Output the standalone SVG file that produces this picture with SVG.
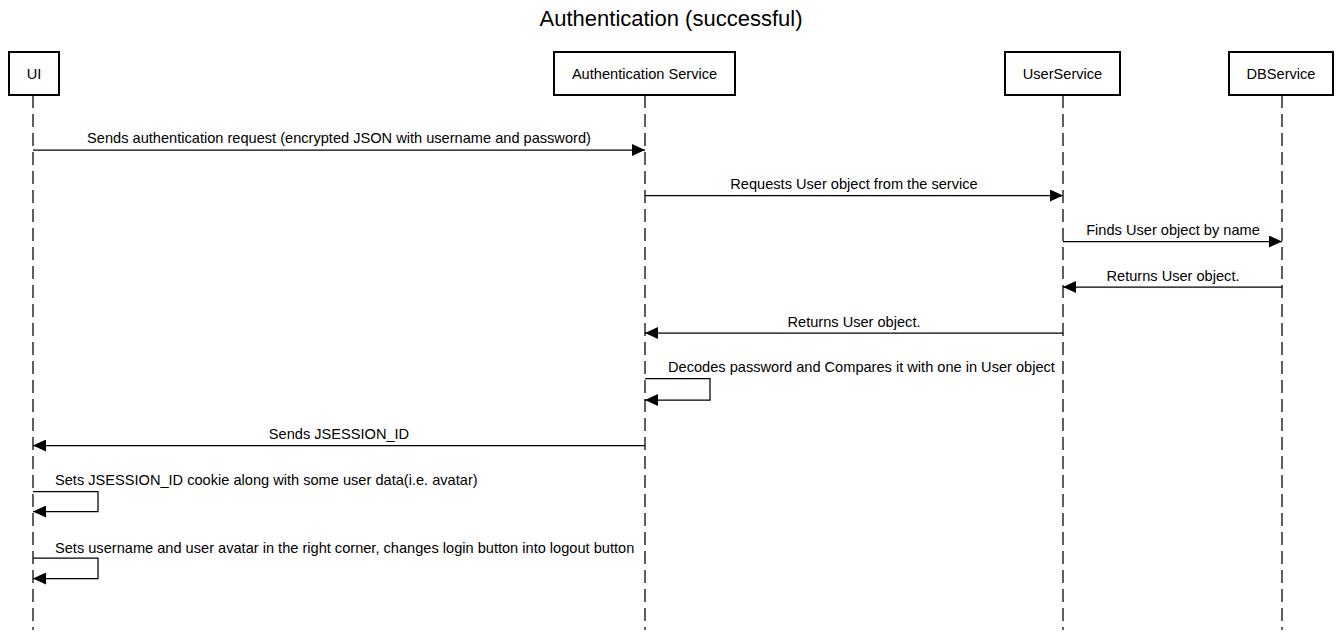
<svg xmlns="http://www.w3.org/2000/svg" width="1342" height="636" viewBox="0 0 1342 636">
<style>
.box{fill:#fff;stroke:#000;stroke-width:2}
.bt{font-family:"Liberation Sans",Arial,sans-serif;font-size:14.6px;fill:#000;text-anchor:middle}
.life{stroke:#000;stroke-width:1.25;stroke-dasharray:13 6;fill:none}
.msg{stroke:#000;stroke-width:1.25;fill:none;marker-end:url(#ah)}
.lt{font-family:"Liberation Sans",Arial,sans-serif;font-size:14.6px;fill:#000;text-anchor:middle}
.ls{font-family:"Liberation Sans",Arial,sans-serif;font-size:14.6px;fill:#000}
.title{font-family:"Liberation Sans",Arial,sans-serif;font-size:22px;fill:#000;text-anchor:middle}
</style>
<defs>
<marker id="ah" viewBox="0 0 13 12" refX="13" refY="6" markerWidth="13" markerHeight="12" markerUnits="userSpaceOnUse" orient="auto">
<path d="M0,0 L13,6 L0,12 z" fill="#000"/>
</marker>
</defs>
<rect width="1342" height="636" fill="#fff"/>
<text class="title" x="671" y="25.5">Authentication (successful)</text>
<g id="lifelines">
<line class="life" x1="33" y1="95" x2="33" y2="630"/>
<line class="life" x1="645" y1="95" x2="645" y2="630"/>
<line class="life" x1="1063" y1="95" x2="1063" y2="630"/>
<line class="life" x1="1282" y1="95" x2="1282" y2="630"/>
</g>
<g id="node-ui">
<rect class="box" x="9" y="52" width="50" height="43"/>
<text class="bt" x="34" y="79">UI</text>
</g>
<g id="node-auth">
<rect class="box" x="554" y="52" width="181" height="43"/>
<text class="bt" x="644.5" y="79">Authentication Service</text>
</g>
<g id="node-user">
<rect class="box" x="1005" y="52" width="115" height="43"/>
<text class="bt" x="1062.5" y="79">UserService</text>
</g>
<g id="node-db">
<rect class="box" x="1229" y="52" width="104" height="43"/>
<text class="bt" x="1281" y="79">DBService</text>
</g>
<g id="connectors">
<line class="msg" x1="33" y1="150" x2="645" y2="150"/>
<text class="lt" x="339" y="143">Sends authentication request (encrypted JSON with username and password)</text>
<line class="msg" x1="645" y1="195.5" x2="1063" y2="195.5"/>
<text class="lt" x="854" y="189">Requests User object from the service</text>
<line class="msg" x1="1063" y1="241.5" x2="1282" y2="241.5"/>
<text class="lt" x="1173" y="235">Finds User object by name</text>
<line class="msg" x1="1282" y1="287" x2="1063" y2="287"/>
<text class="lt" x="1173" y="280.5">Returns User object.</text>
<line class="msg" x1="1063" y1="333" x2="645" y2="333"/>
<text class="lt" x="854" y="326.5">Returns User object.</text>
<path class="msg" d="M645,378.5 H710 V400 H645"/>
<text class="ls" x="668" y="372">Decodes password and Compares it with one in User object</text>
<line class="msg" x1="645" y1="445.5" x2="33" y2="445.5"/>
<text class="lt" x="339" y="439">Sends JSESSION_ID</text>
<path class="msg" d="M33,491.5 H98 V511.5 H33"/>
<text class="ls" x="55" y="485">Sets JSESSION_ID cookie along with some user data(i.e. avatar)</text>
<path class="msg" d="M33,558 H98 V578.5 H33"/>
<text class="ls" x="55" y="552.5">Sets username and user avatar in the right corner, changes login button into logout button</text>
</g>
</svg>
